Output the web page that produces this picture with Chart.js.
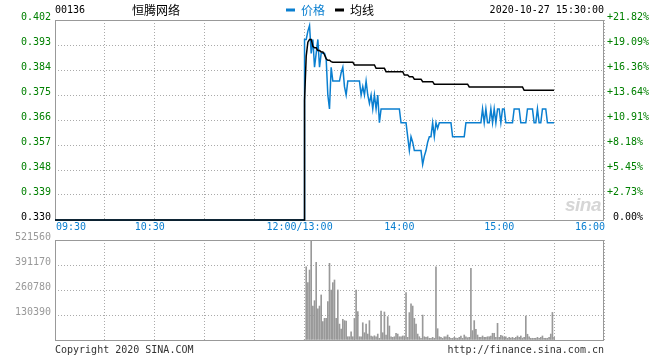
<!DOCTYPE html>
<html><head><meta charset="utf-8">
<script src="https://cdn.jsdelivr.net/npm/chart.js@4.4.1/dist/chart.umd.min.js"></script>
<style>
html,body{margin:0;padding:0;background:#fff;}
#wrap{position:relative;width:660px;height:360px;overflow:hidden;font-family:'DejaVu Sans Mono',monospace;}
canvas{position:absolute;left:0;}
.t{position:absolute;white-space:pre;font-size:10px;line-height:12px;}
</style></head><body>
<div id="wrap">
<canvas id="pc" width="660" height="235" style="top:0"></canvas>
<canvas id="vc" width="660" height="130" style="top:230px"></canvas>
<div class="t" style="left:55px;top:4px;color:#000">00136</div>
<div class="t" style="left:132px;top:2px;font-family:'Noto Sans CJK SC';font-size:12px;line-height:16px;color:#000">恒腾网络</div>
<div class="t" style="right:56px;top:4px;color:#000">2020-10-27 15:30:00</div>
<div class="t" style="left:565px;top:194px;font-family:'Liberation Sans';font-style:italic;font-weight:bold;font-size:19px;line-height:22px;color:#d6d6d6;letter-spacing:-0.5px">sina</div>
<div class="t" style="left:55px;top:344px;color:#333">Copyright 2020 SINA.COM</div>
<div class="t" style="right:56px;top:344px;color:#333">http://finance.sina.com.cn</div>
</div>
<script>
// ---- data ----
const stockCode = '00136';
const seriesNames = ['价格', '均线'];
const prevClose = 0.330;
// morning session (no trades): minute index 0 (09:30) and 150 (12:00)
const amMinutes = [0, 150];
const amPrice = [0.330, 0.330];
// afternoon minutes 13:00 .. 15:30 (minute index 150 + i)
const pmPrice = [
0.395,0.395,0.398,0.400,0.390,0.395,0.385,0.390,0.395,0.385,
0.390,0.390,0.390,0.388,0.375,0.370,0.385,0.380,0.380,0.380,
0.380,0.380,0.383,0.385,0.378,0.375,0.380,0.380,0.380,0.380,
0.380,0.380,0.380,0.380,0.375,0.378,0.375,0.380,0.375,0.372,
0.375,0.370,0.375,0.370,0.375,0.365,0.370,0.370,0.370,0.370,
0.370,0.370,0.370,0.370,0.370,0.370,0.370,0.370,0.365,0.365,
0.365,0.365,0.360,0.355,0.360,0.358,0.355,0.355,0.355,0.355,
0.355,0.350,0.353,0.355,0.358,0.360,0.360,0.365,0.360,0.365,
0.363,0.365,0.365,0.365,0.365,0.365,0.365,0.365,0.365,0.360,
0.360,0.360,0.360,0.360,0.360,0.360,0.360,0.365,0.365,0.365,
0.365,0.365,0.365,0.365,0.365,0.365,0.365,0.370,0.365,0.370,
0.365,0.365,0.370,0.365,0.370,0.365,0.370,0.370,0.365,0.370,
0.370,0.365,0.365,0.365,0.365,0.365,0.370,0.370,0.370,0.370,
0.365,0.365,0.365,0.365,0.370,0.370,0.370,0.370,0.365,0.365,
0.370,0.365,0.365,0.370,0.370,0.370,0.365,0.365,0.365,0.365,
0.365];
const pmAvg = [
0.373,0.389,0.394,0.395,0.395,0.3925,0.392,0.392,0.391,0.391,
0.3905,0.3905,0.3895,0.388,0.3875,0.3875,0.387,0.3868,0.3868,0.3868,
0.3868,0.3868,0.3868,0.3868,0.3868,0.3868,0.3868,0.3868,0.3868,0.3868,
0.3858,0.3858,0.3858,0.3858,0.3858,0.3858,0.3858,0.3858,0.3858,0.3858,
0.3858,0.3858,0.3858,0.3846,0.3846,0.3846,0.3846,0.3846,0.3846,0.3834,
0.3834,0.3834,0.3834,0.3834,0.3834,0.3834,0.3834,0.3834,0.3834,0.3834,
0.3822,0.3822,0.3822,0.3816,0.3816,0.3816,0.3807,0.3807,0.3807,0.3807,
0.3807,0.3798,0.3798,0.3798,0.3798,0.3798,0.3798,0.3798,0.3789,0.3789,
0.3789,0.3789,0.3789,0.3789,0.3789,0.3789,0.3789,0.3789,0.3789,0.3789,
0.3789,0.3789,0.3789,0.3789,0.3789,0.3789,0.3789,0.3789,0.3789,0.3779,
0.3779,0.3779,0.3779,0.3779,0.3779,0.3779,0.3779,0.3779,0.3779,0.3779,
0.3779,0.3779,0.3779,0.3779,0.3779,0.3779,0.3779,0.3779,0.3779,0.3779,
0.3779,0.3779,0.3779,0.3779,0.3779,0.3779,0.3779,0.3779,0.3779,0.3779,
0.3779,0.3779,0.3767,0.3767,0.3767,0.3767,0.3767,0.3767,0.3767,0.3767,
0.3767,0.3767,0.3767,0.3767,0.3767,0.3767,0.3767,0.3767,0.3767,0.3767,
0.3767];
const pmVolume = [
0,382000,299000,365000,521000,177000,205000,405000,162000,177000,
235000,96000,113000,113000,200000,400000,261000,299000,313000,113000,
261000,83000,57000,108000,101000,99000,17000,17000,43000,17000,
113000,261000,148000,17000,17000,90000,38000,83000,31000,101000,
21000,17000,22000,17000,31000,9000,151000,38000,146000,26000,
122000,73000,17000,14000,17000,35000,31000,17000,17000,21000,
21000,247000,14000,143000,188000,177000,113000,83000,31000,17000,
9000,130000,17000,14000,17000,9000,9000,14000,9000,382000,
59000,17000,14000,9000,17000,17000,26000,14000,9000,9000,
14000,10000,9000,14000,21000,9000,26000,17000,12000,14000,
374000,49000,101000,56000,26000,14000,14000,21000,14000,14000,
17000,17000,21000,35000,35000,14000,87000,14000,24000,21000,
14000,17000,9000,14000,10000,14000,9000,14000,21000,14000,
21000,10000,14000,125000,30000,17000,9000,9000,9000,9000,
14000,9000,14000,21000,9000,9000,9000,14000,31000,144000,
14000];
const pmStartMinute = 150;
// axis ticks / labels
const gridMinutes = [0,30,60,90,120,150,180,210,240,270,300,330];
const xLabelMinutes = [0,60,150,210,270,330];
const xLabelTexts = ['09:30','10:30','12:00/13:00','14:00','15:00','16:00'];
const priceTicks = [0.330,0.339,0.348,0.357,0.366,0.375,0.384,0.393,0.402];
const pctLabels = [' 0.00%','+2.73%','+5.45%','+8.18%','+10.91%','+13.64%','+16.36%','+19.09%','+21.82%'];
const volTicks = [0,130390,260780,391170,521560];

// ---- styles ----
const BLUE = '#0a7fd0', GREEN = '#008000', GRID = '#aaaaaa', FRAME = '#999999';
Chart.defaults.font.family = "'DejaVu Sans Mono', monospace";
Chart.defaults.font.size = 10;

const pricePts = amMinutes.map((m,i)=>({x:m,y:amPrice[i]})).concat(pmPrice.map((v,i)=>({x:pmStartMinute+i,y:v})));
const avgPts = amMinutes.map((m,i)=>({x:m,y:amPrice[i]})).concat(pmAvg.map((v,i)=>({x:pmStartMinute+i,y:v})));
const volPts = pmVolume.map((v,i)=>({x:pmStartMinute+i,y:v}));

const frame = {id:'frame', beforeDatasetsDraw(chart){
  const {ctx, chartArea:a} = chart;
  ctx.save(); ctx.strokeStyle = FRAME; ctx.lineWidth = 1;
  ctx.strokeRect(a.left+0.5, a.top+0.5, a.right-a.left-1, a.bottom-a.top);
  ctx.restore();
}};

const setTicks = arr => s => { s.ticks = arr.map(v=>({value:v})); };

new Chart(document.getElementById('pc'), {
  type:'line',
  data:{datasets:[
    {label:seriesNames[0], data:pricePts, borderColor:BLUE, backgroundColor:BLUE, borderWidth:1.5, pointRadius:0, tension:0, order:1, clip:4},
    {label:seriesNames[1], data:avgPts, borderColor:'#000', backgroundColor:'#000', borderWidth:1.5, pointRadius:0, tension:0, order:0, clip:4}
  ]},
  options:{
    responsive:false, animation:false, events:[],
    layout:{padding:0},
    plugins:{
      tooltip:{enabled:false},
      legend:{display:true, position:'top', align:'center', maxHeight:20,
        labels:{boxWidth:9, boxHeight:3, padding:4, font:{family:"'Noto Sans CJK SC'", size:12},
          generateLabels:()=>[
            {text:seriesNames[0]+'\u2002', fillStyle:BLUE, strokeStyle:BLUE, lineWidth:0, fontColor:BLUE, hidden:false, datasetIndex:0},
            {text:seriesNames[1], fillStyle:'#000', strokeStyle:'#000', lineWidth:0, fontColor:'#000', hidden:false, datasetIndex:1}
          ]}}
    },
    scales:{
      x:{type:'linear', min:0, max:330, afterBuildTicks:setTicks(gridMinutes), afterFit:s=>{s.height=15;},
        grid:{color:GRID, drawTicks:false}, border:{display:false, dash:[1,2]},
        ticks:{autoSkip:false, maxRotation:0, padding:1, labelOffset:-5, color:BLUE,
          callback:v=>{const i=xLabelMinutes.indexOf(v); if(i<0) return ''; const t=xLabelTexts[i];
            if(i===0) return '       '+t; if(i===xLabelTexts.length-1) return t+'   '; return t;}}},
      y:{position:'left', min:priceTicks[0], max:priceTicks[priceTicks.length-1], afterBuildTicks:setTicks(priceTicks), afterFit:s=>{s.width=55;},
        grid:{color:GRID, drawTicks:false}, border:{display:false, dash:[1,2]},
        ticks:{padding:4, labelOffset:-3, color:c=>c.index===0?'#000':GREEN, callback:v=>v.toFixed(3)}},
      y2:{position:'right', min:priceTicks[0], max:priceTicks[priceTicks.length-1], afterBuildTicks:setTicks(priceTicks), afterFit:s=>{s.width=56;},
        grid:{display:false, drawTicks:false}, border:{display:false},
        ticks:{padding:3, labelOffset:-3, color:c=>c.index===0?'#000':GREEN, callback:(v,i)=>pctLabels[i]}}
    }
  },
  plugins:[frame]
});

new Chart(document.getElementById('vc'), {
  type:'bar',
  data:{datasets:[{label:'成交量', data:volPts, backgroundColor:'#999999', borderWidth:0, barThickness:1}]},
  options:{
    responsive:false, animation:false, events:[],
    layout:{padding:{top:10, right:56, left:0, bottom:0}},
    plugins:{legend:{display:false}, tooltip:{enabled:false}},
    scales:{
      x:{type:'linear', min:0, max:330, offset:false, afterBuildTicks:setTicks(gridMinutes), afterFit:s=>{s.height=20;},
        grid:{color:GRID, drawTicks:false, offset:false}, border:{display:false, dash:[1,2]}, ticks:{display:false}},
      y:{min:0, max:volTicks[volTicks.length-1], afterBuildTicks:setTicks(volTicks), afterFit:s=>{s.width=55;},
        grid:{color:GRID, drawTicks:false}, border:{display:false, dash:[1,2]},
        ticks:{padding:4, labelOffset:-3, color:'#999999', callback:(v,i)=>i===0?'':String(v)}}
    }
  },
  plugins:[frame]
});
</script>
</body></html>
